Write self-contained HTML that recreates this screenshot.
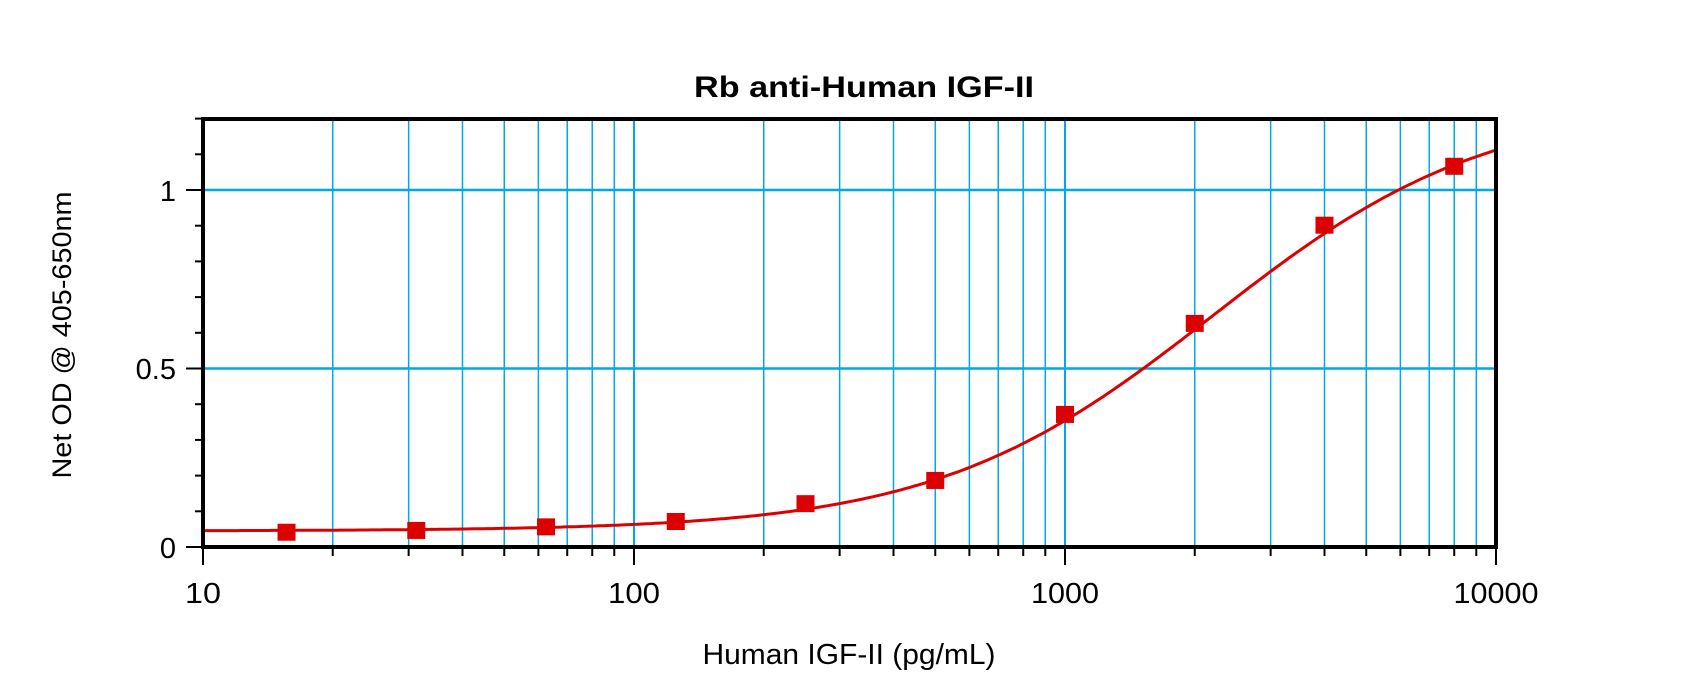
<!DOCTYPE html>
<html><head><meta charset="utf-8"><style>
html,body{margin:0;padding:0;background:#fff;}
svg{display:block;}
text{font-family:"Liberation Sans",Arial,sans-serif;fill:#000;}
</style></head><body>
<svg id="s" width="1700" height="694" viewBox="0 0 1700 694" xmlns="http://www.w3.org/2000/svg">
<text x="864" y="97" font-size="30" font-weight="bold" text-anchor="middle" textLength="340" lengthAdjust="spacingAndGlyphs">Rb anti-Human IGF-II</text>
<g id="grid"></g>
<g id="ticks" stroke="#000" stroke-width="2"></g>
<path id="curve" fill="none" stroke="#dd0000" stroke-width="3"></path>
<g id="pts" fill="#dd0000"></g>
<rect x="203" y="119" width="1293" height="428" fill="none" stroke="#000" stroke-width="4"/>
<text x="176" y="201" font-size="29" text-anchor="end">1</text>
<text x="176" y="379" font-size="29" text-anchor="end">0.5</text>
<text x="176" y="558" font-size="29" text-anchor="end">0</text>
<text x="203" y="603" font-size="29" text-anchor="middle" textLength="36" lengthAdjust="spacingAndGlyphs">10</text>
<text x="634" y="603" font-size="29" text-anchor="middle" textLength="52" lengthAdjust="spacingAndGlyphs">100</text>
<text x="1065" y="603" font-size="29" text-anchor="middle" textLength="68" lengthAdjust="spacingAndGlyphs">1000</text>
<text x="1496" y="603" font-size="29" text-anchor="middle" textLength="85" lengthAdjust="spacingAndGlyphs">10000</text>
<text x="849" y="664" font-size="29" text-anchor="middle" textLength="293" lengthAdjust="spacingAndGlyphs">Human IGF-II (pg/mL)</text>
<text transform="translate(71,335) rotate(-90)" font-size="27" text-anchor="middle" textLength="287" lengthAdjust="spacingAndGlyphs">Net OD @ 405-650nm</text>
</svg>
<script>
var NS="http://www.w3.org/2000/svg";
function X(v){return 203+431*(Math.log10(v)-1);}
function Y(v){return 547-357*v;}
function el(p,t,a){var e=document.createElementNS(NS,t);for(var k in a)e.setAttribute(k,a[k]);document.getElementById(p).appendChild(e);}
for(var d=10;d<10000;d*=10){for(var m=1;m<10;m++){var v=d*m;var x=X(v);
 if(m>1||d>10){el("grid","line",{x1:x,x2:x,y1:119,y2:547,stroke:"#00a8e8","stroke-width":m==1?2:1.5});}
 el("ticks","line",{x1:x,x2:x,y1:547,y2:m==1?565:556});}}
el("ticks","line",{x1:1496,x2:1496,y1:547,y2:565});
[0.5,1].forEach(function(v){el("grid","line",{x1:203,x2:1496,y1:Y(v),y2:Y(v),stroke:"#00a8e8","stroke-width":2.5});});
for(var i=0;i<=12;i++){var y=Y(i/10);var maj=(i%5==0);el("ticks","line",{x1:maj?186:195,x2:203,y1:y,y2:y});}
function f(x){return 1.25+(0.045-1.25)/(1+Math.pow(x/2200,1.35));}
var d="";for(var i=0;i<=300;i++){var lx=1+3*i/300;var x=Math.pow(10,lx);d+=(i?"L":"M")+X(x).toFixed(1)+","+Y(f(x)).toFixed(1);}
document.getElementById("curve").setAttribute("d",d);
var pts=[[15.625,0.04],[31.25,0.045],[62.5,0.055],[125,0.07],[250,0.12],[500,0.185],[1000,0.37],[2000,0.625],[4000,0.9],[8000,1.065]];
pts.forEach(function(p){el("pts","rect",{x:X(p[0])-9,y:Y(p[1])-9,width:18,height:17});});
</script>
</body></html>
